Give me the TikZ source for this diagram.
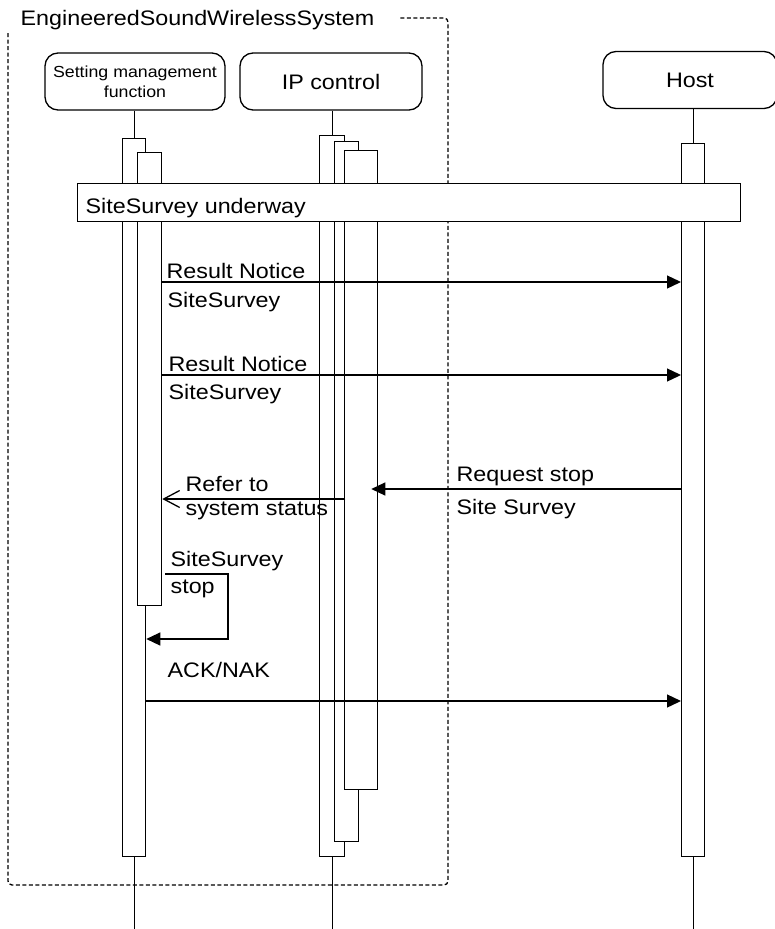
\documentclass[tikz,border=0pt]{standalone}
\usepackage{fontspec}
\setmainfont{Liberation Sans}[FakeStretch=1.11]
\usetikzlibrary{arrows.meta}
\newcommand\msgfont{\fontsize{21}{25}\selectfont}
\newcommand\headfont{\fontsize{16}{20}\selectfont}

\begin{document}
\begin{tikzpicture}[x=1pt,y=-1pt,line width=1.3pt,font=\msgfont,
  head/.style={draw,rounded corners=13pt,minimum height=57pt,align=center,inner sep=0pt},
  bar/.style={draw,fill=white,anchor=north west,inner sep=0pt,minimum width=23pt},
  lbl/.style={anchor=base west,inner sep=0pt},
  frame/.style={line width=1.3pt,dash pattern=on 4pt off 2.5pt,rounded corners=4pt},
  msg/.style={-{Triangle[length=14pt,width=13pt]}},
  reply/.style={-{Straight Barb[length=16pt,width=17pt]}}]
\useasboundingbox (0,0) rectangle (775,929);
\coordinate (bottom) at (0,929);
% system boundary
\draw[frame] (8,33) -- (8,885) -- (448,885) -- (448,18) -- (398,18);
\node[lbl] (sysname) at (20,25) {EngineeredSoundWirelessSystem};
% lifeline heads
\node[head,minimum width=180pt,font=\headfont] (smf) at (135,81.5) {Setting management\\function};
\node[head,minimum width=182pt] (ip) at (331,81.5) {IP control};
\node[head,minimum width=174pt] (host) at (690,80) {Host};
% activations
\node[bar,minimum height=718pt] (smfA) at (122,138) {};
\node[bar,minimum width=24pt,minimum height=453pt] (smfB) at (137,152) {};
\node[bar,minimum width=25pt,minimum height=721pt] (ipA) at (319,135) {};
\node[bar,minimum width=24pt,minimum height=700pt] (ipB) at (334,141) {};
\node[bar,minimum width=33pt,minimum height=639pt] (ipC) at (344,150) {};
\node[bar,minimum height=713pt] (hostA) at (681,143) {};
\draw (smfA.north |- smf.south) -- (smfA.north);
\draw (smfA.south) -- (smfA.south |- bottom);
\draw (ipA.north |- ip.south) -- (ipA.north);
\draw (ipA.south) -- (ipA.south |- bottom);
\draw (hostA.north |- host.south) -- (hostA.north);
\draw (hostA.south) -- (hostA.south |- bottom);
% state band
\node[draw,fill=white,anchor=north west,minimum width=663pt,minimum height=38pt,inner sep=0pt] (busy) at (77,183) {};
\node[lbl] (busylbl) at (85,213) {SiteSurvey underway};
% messages
\draw[msg] (smfB.east |- 0,282) -- (hostA.west |- 0,282);
\node[lbl] (res1) at (166,278) {Result Notice};
\node[lbl] (ss1) at (167,307) {SiteSurvey};
\draw[msg] (smfB.east |- 0,375) -- (hostA.west |- 0,375);
\node[lbl] (res2) at (168,371) {Result Notice};
\node[lbl] (ss2) at (168,399) {SiteSurvey};
\draw[msg] (hostA.west |- 0,489) -- ([xshift=-7pt]ipC.east |- 0,489);
\node[lbl] (req1) at (456,481) {Request stop};
\node[lbl] (req2) at (456,514) {Site Survey};
\draw[reply] (ipA.east |- 0,499) -- (smfB.east |- 0,499);
\node[lbl] (ref1) at (185,491) {Refer to};
\node[lbl] (ref2) at (185,515) {system status};
\draw[msg] ([xshift=3pt]smfB.east |- 0,574) -| (228,639) -- (smfA.east |- 0,639);
\node[lbl] (stp1) at (170,566) {SiteSurvey};
\node[lbl] (stp2) at (170,593) {stop};
\draw[msg] (smfA.east |- 0,701) -- (hostA.west |- 0,701);
\node[lbl] (ack) at (167,677) {ACK/NAK};
\end{tikzpicture}
\end{document}
